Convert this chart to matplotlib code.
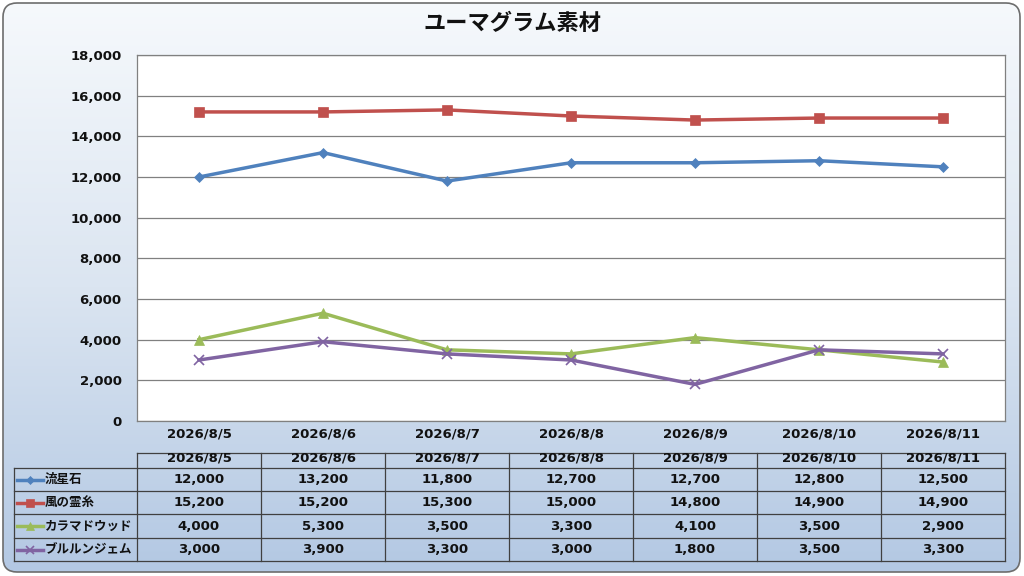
import numpy as np
import matplotlib.pyplot as plt
from matplotlib.patches import FancyBboxPatch
from matplotlib.colors import LinearSegmentedColormap
from matplotlib.ticker import FuncFormatter

plt.rcParams['font.family'] = ['DejaVu Sans', 'Noto Sans CJK JP']

# === DATA ===
title = "ユーマグラム素材"
dates = ["2026/8/5", "2026/8/6", "2026/8/7", "2026/8/8", "2026/8/9", "2026/8/10", "2026/8/11"]
series_names = ["流星石", "風の霊糸", "カラマドウッド", "ブルルンジェム"]
ryuseiseki = [12000, 13200, 11800, 12700, 12700, 12800, 12500]
kaze_reishi = [15200, 15200, 15300, 15000, 14800, 14900, 14900]
karama_wood = [4000, 5300, 3500, 3300, 4100, 3500, 2900]
bururun_gem = [3000, 3900, 3300, 3000, 1800, 3500, 3300]
series_values = [ryuseiseki, kaze_reishi, karama_wood, bururun_gem]
colors = ["#4f81bd", "#c0504d", "#9bbb59", "#8064a2"]
markers = ["D", "s", "^", "x"]
msizes = [5, 7, 7, 7]
# ============

W, H = 1024, 576
NUM_FS = 9.5
fig = plt.figure(figsize=(W / 100, H / 100), dpi=100)

# background with rounded frame + vertical gradient
bg = fig.add_axes([0, 0, 1, 1])
bg.set_xlim(0, W)
bg.set_ylim(H, 0)
bg.axis("off")
grad = np.linspace(0, 1, 256).reshape(-1, 1)
cmap = LinearSegmentedColormap.from_list("bgc", ["#f6f9fc", "#dbe5f1", "#b3c8e3"])
img = bg.imshow(grad, cmap=cmap, aspect="auto", extent=[2, W - 3, H - 3, 2], zorder=0)
frame = FancyBboxPatch((3, 3), W - 7, H - 7, boxstyle="round,pad=0,rounding_size=14",
                       facecolor="none", edgecolor="#6d6d6d", linewidth=1.2, zorder=2)
bg.add_patch(frame)
img.set_clip_path(frame)

bg.text(W / 2, 23, title, ha="center", va="center", fontsize=16, fontweight="bold",
        color="#111111", family="Noto Sans CJK JP")

# plot area
L, R, T, B = 137, 1005, 55, 421
ax = fig.add_axes([L / W, 1 - B / H, (R - L) / W, (B - T) / H])
ax.set_facecolor("white")
x = np.arange(len(dates))
for vals, c, m, ms in zip(series_values, colors, markers, msizes):
    ax.plot(x, vals, color=c, linewidth=2.5, marker=m, markersize=ms,
            markeredgewidth=1.2 if m == "x" else 0.5, markeredgecolor=c, zorder=3)
ax.set_xlim(-0.5, len(dates) - 0.5)
ax.set_ylim(0, 18000)
ax.set_yticks(range(0, 18001, 2000))
ax.yaxis.set_major_formatter(FuncFormatter(lambda v, p: f"{int(v):,}"))
ax.set_xticks(x)
ax.set_xticklabels(dates)
ax.grid(axis="y", color="#808080", linewidth=0.9)
ax.set_axisbelow(True)
ax.tick_params(axis="both", length=0, labelsize=NUM_FS, colors="#111111")
ax.tick_params(axis="x", pad=5)
ax.tick_params(axis="y", pad=11)
for lab in ax.get_xticklabels() + ax.get_yticklabels():
    lab.set_fontweight("bold")
for s in ax.spines.values():
    s.set_color("#808080")
    s.set_linewidth(0.9)

# data table
tl, c0 = 14, 137
colw = (R - c0) / len(dates)
rows_y = [453, 468, 491, 514, 538, 561]
lc = "#404040"
bg.plot([c0, R], [rows_y[0], rows_y[0]], color=lc, lw=0.9, zorder=3)
for yy in rows_y[1:]:
    bg.plot([tl, R], [yy, yy], color=lc, lw=0.9, zorder=3)
bg.plot([tl, tl], [rows_y[1], rows_y[-1]], color=lc, lw=0.9, zorder=3)
for i in range(len(dates) + 1):
    xx = c0 + i * colw
    bg.plot([xx, xx], [rows_y[0], rows_y[-1]], color=lc, lw=0.9, zorder=3)
for i, d in enumerate(dates):
    bg.text(c0 + (i + 0.5) * colw, rows_y[0] + 5, d, ha="center", va="center",
            fontsize=NUM_FS, fontweight="bold", color="#111111", zorder=4)
for r, (name, vals, c, m, ms) in enumerate(zip(series_names, series_values, colors, markers, msizes)):
    yc = (rows_y[r + 1] + rows_y[r + 2]) / 2
    bg.plot([17, 43], [yc, yc], color=c, lw=2.5, zorder=4)
    bg.plot([30], [yc], color=c, marker=m, markersize=ms - 1,
            markeredgewidth=1.2 if m == "x" else 0.5, zorder=5)
    bg.text(45, yc, name, ha="left", va="center", fontsize=9, fontweight="bold",
            color="#111111", zorder=4, family="Noto Sans CJK JP")
    for i, v in enumerate(vals):
        bg.text(c0 + (i + 0.5) * colw, yc, f"{v:,}", ha="center", va="center",
                fontsize=NUM_FS, fontweight="bold", color="#111111", zorder=4)

fig.savefig("out.png", dpi=100)
